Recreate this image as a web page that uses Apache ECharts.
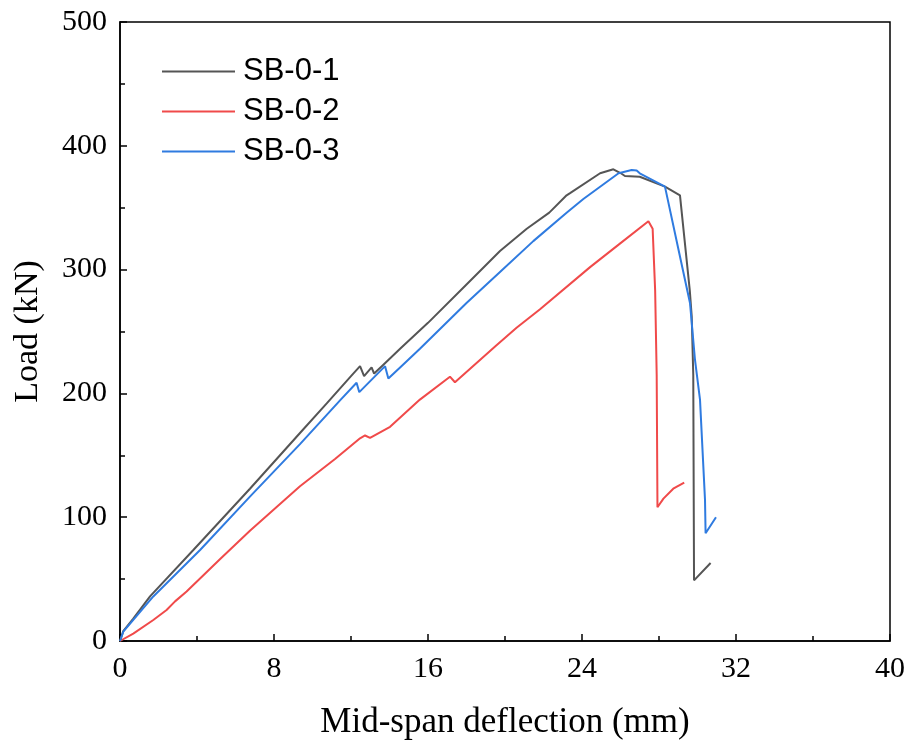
<!DOCTYPE html>
<html><head><meta charset="utf-8">
<script src="https://cdn.jsdelivr.net/npm/echarts@6/dist/echarts.min.js"></script>
<style>html,body{margin:0;padding:0;background:#fff}#c{width:913px;height:747px}</style>
</head><body><div id="c"></div>
<script>
const seriesNames = ['SB-0-1', 'SB-0-2', 'SB-0-3'];
const xTicks = [0, 8, 16, 24, 32, 40];
const yTicks = [0, 100, 200, 300, 400, 500];

const sb1x = [0,0.17,0.69,1.56,3.81,6.75,9.35,10.74,12.0,12.47,12.68,13.07,13.2,13.67,14.55,16,18,19.74,21.13,22.3,23.2,23.4,24.94,25.63,26.0,26.23,27.0,28.31,29.09,29.6,29.7,29.78,29.82,30.68];
const sb1y = [0,8,18,36,73.5,123,168,192,214,222,214,221,216,223,236,257,288,315,333,346,360,362,377.8,381,378,375.6,375,367,360,283,262,215,49,63];

const sb2x = [0,0.69,1.73,2.42,2.86,3.46,5.19,6.75,9.35,11.17,12.47,12.73,12.99,14.03,15.58,17.14,17.4,19.5,20.6,21.82,24.42,25.97,27.45,27.67,27.8,27.88,27.92,28.23,28.74,29.31];
const sb2y = [0,6,17,25,32,40,66,89,125,147,163.7,166,164,173,195,213.5,209,238,253,268,302,321,339,333,283,215,108,115,123,128];

const sb3x = [0,0.17,0.69,1.73,4.16,6.75,9.35,11.43,12.29,12.43,13.77,13.94,14.55,15.58,18,19.74,21.47,23.2,24.07,25.9,26.58,26.84,27.0,28.31,29.0,29.61,29.87,30.13,30.39,30.42,30.96];
const sb3y = [0,7.5,17,36,73.5,116.6,159,194.4,208.6,201,222,212,221,236,273,298,323,346,357,377.8,380.5,380,377.8,367,317,273,227,195,114,87,100];

const colors = ['#555555', '#f04a4a', '#2f7be0'];
const zip = (xs, ys) => xs.map((x, i) => [x, ys[i]]);
const dataSets = [zip(sb1x, sb1y), zip(sb2x, sb2y), zip(sb3x, sb3y)];

const chart = echarts.init(document.getElementById('c'), null, {renderer: 'canvas'});
const serif = 'Liberation Serif';
const axisCommon = {
  nameMoveOverlap: false,
  axisLine: {show: true, lineStyle: {color: '#000', width: 1.5}},
  axisTick: {show: true, inside: true, length: 7, lineStyle: {color: '#000', width: 1.5}},
  minorTick: {show: true, splitNumber: 2, length: 5, lineStyle: {color: '#000', width: 1.5}},
  axisLabel: {fontFamily: serif, fontSize: 30, color: '#000', margin: 13},
  splitLine: {show: false}
};
chart.setOption({
  backgroundColor: '#fff',
  animation: false,
  grid: {left: 120, right: 23, top: 22, bottom: 106, containLabel: false, outerBoundsMode: 'none',
         show: true, borderColor: '#000', borderWidth: 1.5, backgroundColor: 'transparent'},
  legend: {
    data: seriesNames.map(n => ({name: n, icon: 'rect'})), orient: 'vertical', left: 157, top: 49, itemGap: 5,
    itemWidth: 73, itemHeight: 2,
    textStyle: {fontFamily: 'Liberation Sans', fontSize: 31, color: '#000', padding: [0, 0, 0, 3], lineHeight: 35}
  },
  xAxis: Object.assign({
    type: 'value', min: xTicks[0], max: xTicks[xTicks.length - 1], interval: 8,
    name: 'Mid-span deflection (mm)', nameLocation: 'middle', nameGap: 64,
    nameTextStyle: {fontFamily: serif, fontSize: 35, color: '#000'}
  }, axisCommon),
  yAxis: Object.assign({
    type: 'value', min: yTicks[0], max: yTicks[yTicks.length - 1], interval: 100,
    name: 'Load (kN)', nameLocation: 'middle', nameGap: 75,
    nameTextStyle: {fontFamily: serif, fontSize: 34, color: '#000'}
  }, axisCommon),
  series: seriesNames.map((n, i) => ({
    name: n, type: 'line', data: dataSets[i], symbol: 'none', showSymbol: false,
    lineStyle: {color: colors[i], width: 2}, itemStyle: {color: colors[i]},
    z: i === 1 ? 2 : (i === 0 ? 3 : 4)
  }))
});
</script></body></html>
